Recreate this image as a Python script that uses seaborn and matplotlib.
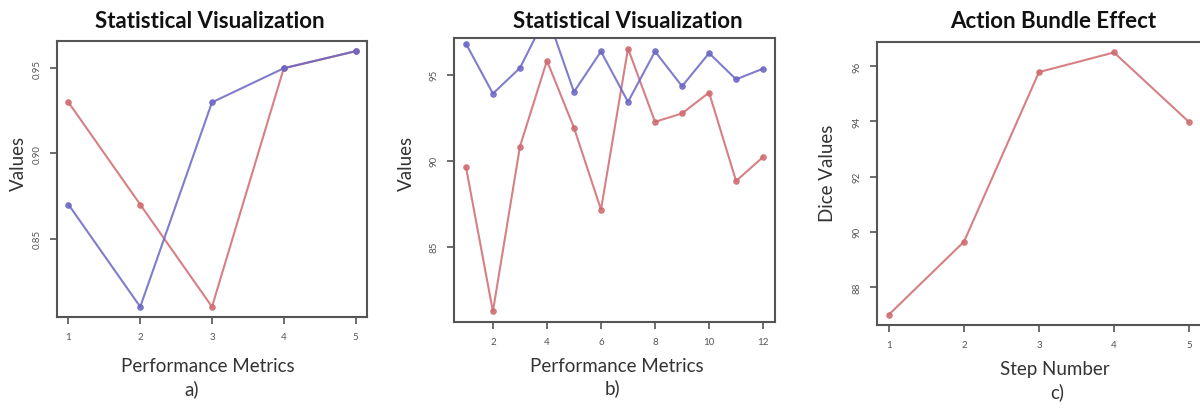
import pandas as pd
import seaborn as sns
import matplotlib.pyplot as plt

# --- data ---
metrics_a = [1, 2, 3, 4, 5]
red_a = [0.93, 0.87, 0.81, 0.95, 0.96]
blue_a = [0.87, 0.81, 0.93, 0.95, 0.96]

metrics_b = [1, 2, 3, 4, 5, 6, 7, 8, 9, 10, 11, 12]
red_b = [89.66, 81.24, 90.82, 95.81, 91.92, 87.16, 96.52, 92.26, 92.75, 93.96, 88.82, 90.22]
blue_b = [96.81, 93.90, 95.39, 98.5, 94.0, 96.35, 93.42, 96.35, 94.33, 96.25, 94.73, 95.35]

steps_c = [1, 2, 3, 4, 5]
dice_c = [87.0, 89.64, 95.79, 96.5, 93.98]

RED = "#cf6a70"
BLUE = "#6a66c4"

sns.set_style("white")
plt.rcParams["font.family"] = ["Lato", "DejaVu Sans"]

fig = plt.figure(figsize=(12, 4.1), dpi=100)
ax_a = fig.add_axes([57 / 1200, 1 - 318 / 410, 310 / 1200, 276 / 410])
ax_b = fig.add_axes([454 / 1200, 1 - 323 / 410, 321 / 1200, 284 / 410])
ax_c = fig.add_axes([877 / 1200, 1 - 326 / 410, 324 / 1200, 283 / 410])


def r_style(ax, xs, lo, hi, xticks, yticks, ylabels):
    # R-like 4% padding
    pad_x = (max(xs) - min(xs)) * 0.04
    ax.set_xlim(min(xs) - pad_x, max(xs) + pad_x)
    pad_y = (hi - lo) * 0.04
    ax.set_ylim(lo - pad_y, hi + pad_y)
    ax.set_xticks(xticks)
    ax.set_xticklabels([str(t) for t in xticks], fontsize=7, color="#555555")
    ax.set_yticks(yticks)
    ax.set_yticklabels(ylabels, fontsize=7, color="#555555", rotation=90, va="center")
    ax.tick_params(direction="out", length=5, width=1.2, color="#555555", pad=6,
                   bottom=True, left=True)
    for s in ax.spines.values():
        s.set_color("#555555")
        s.set_linewidth(1.5)
    ax.set_xlabel("")
    ax.set_ylabel("")
    if ax.get_legend():
        ax.get_legend().remove()


def draw(ax, x, y, color):
    sns.lineplot(x=x, y=y, ax=ax, color=color, linewidth=1.5, marker="o",
                 markersize=4, markeredgecolor=color, alpha=0.85)


# a)
draw(ax_a, metrics_a, red_a, RED)
draw(ax_a, metrics_a, blue_a, BLUE)
r_style(ax_a, metrics_a, 0.81, 0.96, metrics_a, [0.85, 0.90, 0.95], ["0.85", "0.90", "0.95"])

# b)
draw(ax_b, metrics_b, red_b, RED)
draw(ax_b, metrics_b, blue_b, BLUE)
r_style(ax_b, metrics_b, min(red_b), max(red_b), [2, 4, 6, 8, 10, 12], [85, 90, 95], ["85", "90", "95"])

# c)
draw(ax_c, steps_c, dice_c, RED)
r_style(ax_c, steps_c, min(dice_c), max(dice_c), steps_c, [88, 90, 92, 94, 96],
        ["88", "90", "92", "94", "96"])

# text, placed in pixel fractions
def txt(x, y, s, **kw):
    fig.text(x / 1200, 1 - y / 410, s, ha="center", va="center", **kw)

title_kw = dict(fontsize=16, fontweight="bold", color="#111111")
lab_kw = dict(fontsize=13.5, color="#333333")

txt(210, 22, "Statistical Visualization", **title_kw)
txt(628, 22, "Statistical Visualization", **title_kw)
txt(1053, 22, "Action Bundle Effect", **title_kw)

txt(18, 163, "Values", rotation=90, **lab_kw)
txt(406, 163, "Values", rotation=90, **lab_kw)
txt(828, 173, "Dice Values", rotation=90, **lab_kw)

txt(208, 367, "Performance Metrics", **lab_kw)
txt(617, 367, "Performance Metrics", **lab_kw)
txt(1055, 370, "Step Number", **lab_kw)

txt(192, 389, "a)", **lab_kw)
txt(612, 388, "b)", **lab_kw)
txt(1057, 392, "c)", **lab_kw)

fig.savefig("out.png", dpi=100)
